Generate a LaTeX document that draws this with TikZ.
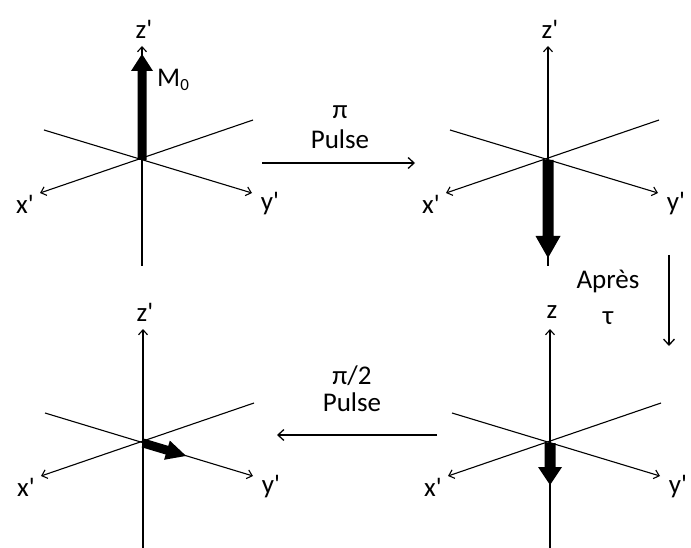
\documentclass[tikz,border=0pt]{standalone}
\usepackage{fontspec}
\newfontfamily\lab{Carlito}
\usetikzlibrary{arrows.meta,calc}
\tikzset{
  ax/.style={line width=1.1pt,-{Straight Barb[length=5pt,width=9pt]}},
  flow/.style={line width=1.3pt,-{Straight Barb[length=6pt,width=11pt]}},
  lbl/.style={font=\lab\fontsize{27}{30}\selectfont,inner sep=0pt},
}
\newcommand{\axes}[4]{% origin name, x, y, zlabel
  \coordinate (#1) at (#2,#3);
  \coordinate (#1xt) at ($(#1)+(-102,33)$);
  \coordinate (#1xb) at ($(#1)+(111,-40)$);
  \coordinate (#1yt) at ($(#1)+(110,33)$);
  \coordinate (#1yb) at ($(#1)+(-98,-30)$);
  \coordinate (#1zt) at ($(#1)+(0,-114)$);
  \coordinate (#1zb) at ($(#1)+(0,106)$);
  \draw[ax] (#1xb) -- (#1xt);
  \draw[ax] (#1yb) -- (#1yt);
  \draw[ax] (#1zb) -- (#1zt);
  \node[lbl] (#1xl) at ($(#1)+(-117,44)$) {x'};
  \node[lbl] (#1yl) at ($(#1)+(128,44)$) {y'};
  \node[lbl] (#1zl) at ($(#1)+(2,-131)$) {#4};
}
\newcommand{\bold}[6]{% origin, angle, length, headlen, headhw, shafthw
  \begin{scope}[shift={(#1)},rotate=#2]
    \fill (0,-#6) -- (#3-#4,-#6) -- (#3-#4,-#5) -- (#3,0) -- (#3-#4,#5) -- (#3-#4,#6) -- (0,#6) -- cycle;
  \end{scope}
}
\begin{document}
\begin{tikzpicture}[x=1pt,y=-1pt]
\useasboundingbox (0,0) rectangle (691,548);
\axes{A}{142}{160}{z'}
\axes{B}{548}{160}{z'}
\axes{C}{550}{443}{z}
\axes{D}{143}{443}{z'}
% bold magnetisation arrows
\bold{A}{90}{106}{17}{11}{4.5}
\bold{B}{-90}{98}{22}{12.5}{5.5}
\bold{C}{-90}{42}{18}{12}{5.5}
\bold{D}{-16.7}{45}{20}{10}{4.5}
\node[lbl,anchor=west] (m0) at (157,80) {M\raisebox{-4pt}{\fontsize{17}{18}\selectfont 0}};
% transition arrows
\coordinate (t1s) at (262,163);
\coordinate (t1e) at (415,163);
\draw[flow] (t1s) -- (t1e);
\node[lbl] (pi1) at (340,112) {π};
\node[lbl] (pu1) at (340,139) {Pulse};
\coordinate (t2s) at (669,255);
\coordinate (t2e) at (669,346);
\draw[flow] (t2s) -- (t2e);
\node[lbl] (ap) at (608,281) {Après};
\node[lbl] (tau) at (608,318) {τ};
\coordinate (t3s) at (437,435);
\coordinate (t3e) at (277,435);
\draw[flow] (t3s) -- (t3e);
\node[lbl] (pi2) at (352,376) {π/2};
\node[lbl] (pu2) at (352,402) {Pulse};
\end{tikzpicture}
\end{document}
